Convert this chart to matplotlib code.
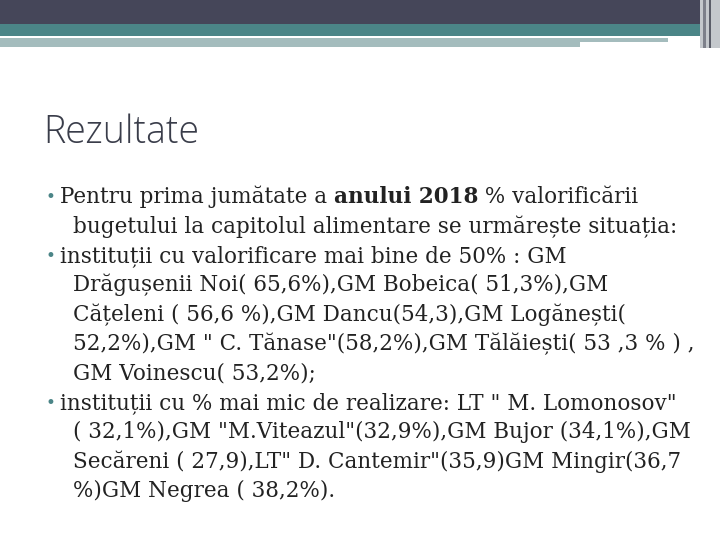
import matplotlib
matplotlib.use("Agg")
import matplotlib.pyplot as plt
from matplotlib.patches import Rectangle

title = "Rezultate"
# each line: (bullet?, list of (text, bold))
lines = [
    (True, [("Pentru prima jumătate a ", False), ("anului 2018", True), (" % valorificării", False)]),
    (False, [("bugetului la capitolul alimentare se urmărește situația:", False)]),
    (True, [("instituții cu valorificare mai bine de 50% : GM", False)]),
    (False, [("Drăgușenii Noi( 65,6%),GM Bobeica( 51,3%),GM", False)]),
    (False, [("Cățeleni ( 56,6 %),GM Dancu(54,3),GM Logănești(", False)]),
    (False, [("52,2%),GM \" C. Tănase\"(58,2%),GM Tălăiești( 53 ,3 % ) ,", False)]),
    (False, [("GM Voinescu( 53,2%);", False)]),
    (True, [("instituții cu % mai mic de realizare: LT \" M. Lomonosov\"", False)]),
    (False, [("( 32,1%),GM \"M.Viteazul\"(32,9%),GM Bujor (34,1%),GM", False)]),
    (False, [("Secăreni ( 27,9),LT\" D. Cantemir\"(35,9)GM Mingir(36,7", False)]),
    (False, [("%)GM Negrea ( 38,2%).", False)]),
]

fig = plt.figure(figsize=(7.2, 5.4), dpi=100)
ax = fig.add_axes([0, 0, 1, 1])
ax.set_xlim(0, 720); ax.set_ylim(540, 0); ax.axis("off")

ax.add_patch(Rectangle((0, 0), 700, 24, color="#454659", lw=0))
ax.add_patch(Rectangle((0, 24), 700, 12, color="#4b8587", lw=0))
ax.add_patch(Rectangle((0, 38), 668, 4, color="#a4bcbd", lw=0))
ax.add_patch(Rectangle((0, 42), 580, 5, color="#a4bcbd", lw=0))
ax.add_patch(Rectangle((700, 0), 20, 48, color="#c4c8cc", lw=0))
ax.add_patch(Rectangle((703, 0), 3, 48, color="#7d808a", lw=0))
ax.add_patch(Rectangle((709, 0), 2, 48, color="#5a5d68", lw=0))

ax.text(43, 133, title, fontsize=27, family="Open Sans", color="#3a3d4a", va="center",
        fontweight="light")

fig.canvas.draw()
r = fig.canvas.get_renderer()
y0, dy = 197, 29.4
for i, (bul, segs) in enumerate(lines):
    y = y0 + i * dy
    if bul:
        ax.text(46, y, "•", fontsize=12, color="#4b8587", va="center", family="DejaVu Sans")
    x = 60 if bul else 73
    for s, b in segs:
        t = ax.text(x, y, s, fontsize=15.5, family="DejaVu Serif",
                    fontweight="bold" if b else "normal", color="#222222", va="center")
        bb = t.get_window_extent(renderer=r)
        x += bb.width * 720 / fig.bbox.width

fig.savefig("out.png", dpi=100)
